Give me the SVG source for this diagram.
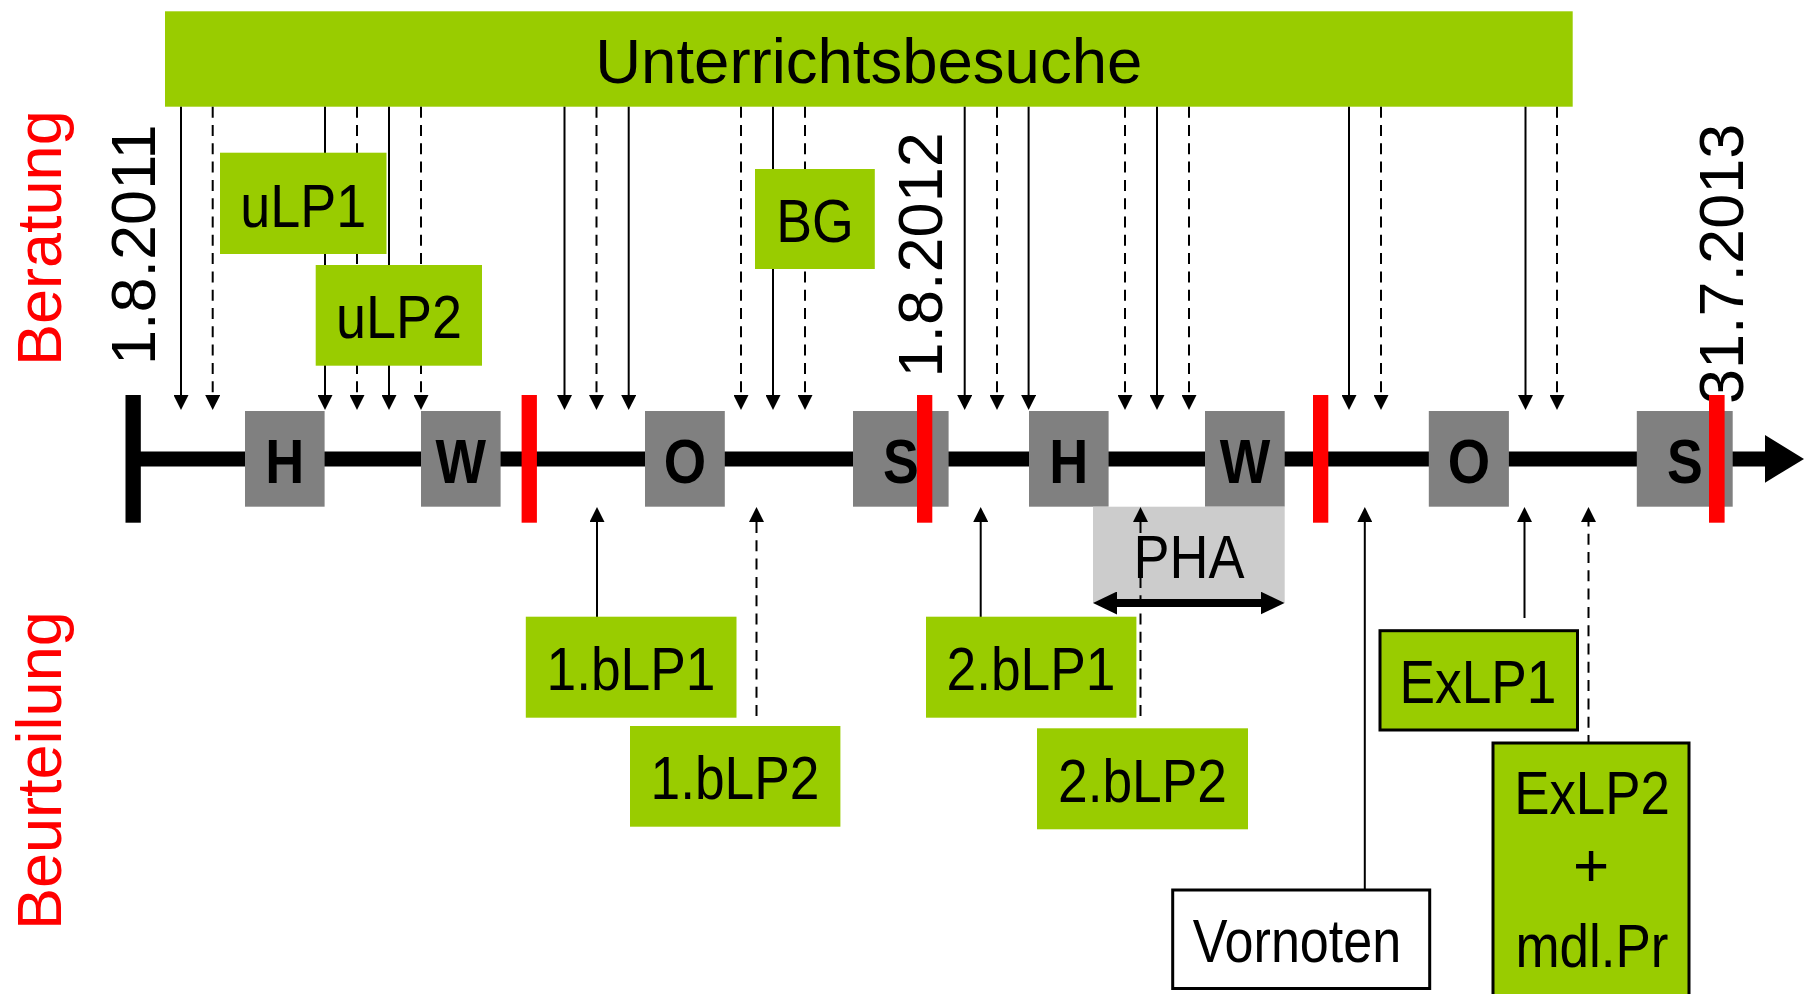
<svg xmlns="http://www.w3.org/2000/svg" width="1804" height="994" viewBox="0 0 1804 994">
<style>
text{font-family:'Liberation Sans',Arial,sans-serif;fill:#000}
.lbl{font-size:62px;text-anchor:middle}
.big{font-size:63.5px;text-anchor:middle}
.rot{font-size:63px}
.red{fill:#FF0000}
.tl{font-size:63px;font-weight:bold;text-anchor:middle}
.green{fill:#99CC00}
.gbox{fill:#99CC00;stroke:#000;stroke-width:3}
.grey{fill:#808080}
.rbar{fill:#FF0000}
.c{stroke:#000;stroke-width:2;fill:none}
.d{stroke-dasharray:11 7.3}
</style>
<defs>
<marker id="ah" markerUnits="userSpaceOnUse" markerWidth="15" markerHeight="15" viewBox="0 0 15 15" refX="10" refY="7.5" orient="auto">
<path d="M0,0 L15,7.5 L0,15 Z" fill="#000"/>
</marker>
<marker id="dh" markerUnits="userSpaceOnUse" markerWidth="24" markerHeight="23" viewBox="0 0 24 23" refX="6" refY="11.5" orient="auto-start-reverse">
<path d="M0,0 L24,11.5 L0,23 Z" fill="#000"/>
</marker>
</defs>

<g id="side-labels">
<text class="rot red" transform="translate(61,366) rotate(-90)">Beratung</text>
<text class="rot red" transform="translate(61,930) rotate(-90)">Beurteilung</text>
<text class="rot" transform="translate(155,365) rotate(-90)">1.8.2011</text>
<text class="rot" transform="translate(942,377.5) rotate(-90)">1.8.2012</text>
<text class="rot" transform="translate(1743,404) rotate(-90)">31.7.2013</text>
</g>

<g id="header">
<rect class="green" x="165" y="11.3" width="1407.7" height="95.4"/>
<text class="big" x="868.8" y="82.7">Unterrichtsbesuche</text>
</g>

<g id="timeline">
<line x1="133" y1="459" x2="1768" y2="459" stroke="#000" stroke-width="15"/>
<rect x="125.5" y="395" width="15.3" height="127.7" fill="#000"/>
<path d="M1765,435 L1804,459 L1765,482.7 Z" fill="#000"/>
</g>

<g id="box-H1"><rect class="grey" x="245" y="411" width="79.6" height="95.7"/><text class="tl" x="284.8" y="483.3" textLength="39" lengthAdjust="spacingAndGlyphs">H</text></g>
<g id="box-W1"><rect class="grey" x="421" y="411" width="79.6" height="95.7"/><text class="tl" x="460.8" y="483.3" textLength="50.5" lengthAdjust="spacingAndGlyphs">W</text></g>
<g id="box-O1"><rect class="grey" x="645" y="411" width="79.8" height="95.7"/><text class="tl" x="684.9" y="483.3" textLength="42.4" lengthAdjust="spacingAndGlyphs">O</text></g>
<g id="box-S1"><rect class="grey" x="853" y="411" width="95.6" height="95.7"/><text class="tl" x="901" y="483.3" textLength="35.8" lengthAdjust="spacingAndGlyphs">S</text></g>
<g id="box-H2"><rect class="grey" x="1029" y="411" width="79.6" height="95.7"/><text class="tl" x="1068.8" y="483.3" textLength="39" lengthAdjust="spacingAndGlyphs">H</text></g>
<g id="box-W2"><rect class="grey" x="1205" y="411" width="79.7" height="95.7"/><text class="tl" x="1244.9" y="483.3" textLength="50.5" lengthAdjust="spacingAndGlyphs">W</text></g>
<g id="box-O2"><rect class="grey" x="1428.8" y="411" width="80.1" height="95.7"/><text class="tl" x="1468.9" y="483.3" textLength="42.4" lengthAdjust="spacingAndGlyphs">O</text></g>
<g id="box-S2"><rect class="grey" x="1636.8" y="411" width="95.9" height="95.7"/><text class="tl" x="1684.8" y="483.3" textLength="35.8" lengthAdjust="spacingAndGlyphs">S</text></g>

<g id="year-marks">
<rect class="rbar" x="521.6" y="395" width="15.3" height="127.7"/>
<rect class="rbar" x="917" y="395" width="15.3" height="127.7"/>
<rect class="rbar" x="1313" y="395" width="15.3" height="127.7"/>
<rect class="rbar" x="1709" y="395" width="15.6" height="127.7"/>
</g>

<g id="PHA">
<rect x="1093" y="506.7" width="191.7" height="96.3" fill="#CCCCCC"/>
<text class="lbl" x="1189" y="578.3" textLength="111" lengthAdjust="spacingAndGlyphs">PHA</text>
<line x1="1111" y1="603" x2="1266.5" y2="603" stroke="#000" stroke-width="8" marker-start="url(#dh)" marker-end="url(#dh)"/>
</g>

<g id="connectors">
<line class="c" x1="181" y1="106.7" x2="181" y2="405" marker-end="url(#ah)"/>
<line class="c d" x1="212.7" y1="106.7" x2="212.7" y2="405" marker-end="url(#ah)"/>
<line class="c" x1="325" y1="106.7" x2="325" y2="405" marker-end="url(#ah)"/>
<line class="c d" x1="357" y1="106.7" x2="357" y2="405" marker-end="url(#ah)"/>
<line class="c" x1="389" y1="106.7" x2="389" y2="405" marker-end="url(#ah)"/>
<line class="c d" x1="421" y1="106.7" x2="421" y2="405" marker-end="url(#ah)"/>
<line class="c" x1="564.5" y1="106.7" x2="564.5" y2="405" marker-end="url(#ah)"/>
<line class="c d" x1="596.5" y1="106.7" x2="596.5" y2="405" marker-end="url(#ah)"/>
<line class="c" x1="628.7" y1="106.7" x2="628.7" y2="405" marker-end="url(#ah)"/>
<line class="c d" x1="741" y1="106.7" x2="741" y2="405" marker-end="url(#ah)"/>
<line class="c" x1="773" y1="106.7" x2="773" y2="405" marker-end="url(#ah)"/>
<line class="c d" x1="805" y1="106.7" x2="805" y2="405" marker-end="url(#ah)"/>
<line class="c" x1="964.7" y1="106.7" x2="964.7" y2="405" marker-end="url(#ah)"/>
<line class="c d" x1="997" y1="106.7" x2="997" y2="405" marker-end="url(#ah)"/>
<line class="c" x1="1028.6" y1="106.7" x2="1028.6" y2="405" marker-end="url(#ah)"/>
<line class="c d" x1="1125" y1="106.7" x2="1125" y2="405" marker-end="url(#ah)"/>
<line class="c" x1="1157" y1="106.7" x2="1157" y2="405" marker-end="url(#ah)"/>
<line class="c d" x1="1189" y1="106.7" x2="1189" y2="405" marker-end="url(#ah)"/>
<line class="c" x1="1349" y1="106.7" x2="1349" y2="405" marker-end="url(#ah)"/>
<line class="c d" x1="1381" y1="106.7" x2="1381" y2="405" marker-end="url(#ah)"/>
<line class="c" x1="1525.5" y1="106.7" x2="1525.5" y2="405" marker-end="url(#ah)"/>
<line class="c d" x1="1557" y1="106.7" x2="1557" y2="405" marker-end="url(#ah)"/>
<line class="c" x1="597" y1="618" x2="597" y2="512" marker-end="url(#ah)"/>
<line class="c d" x1="756.5" y1="716" x2="756.5" y2="512" marker-end="url(#ah)"/>
<line class="c" x1="980.7" y1="617" x2="980.7" y2="512" marker-end="url(#ah)"/>
<line class="c d" x1="1140.5" y1="716" x2="1140.5" y2="512" marker-end="url(#ah)"/>
<line class="c" x1="1364.8" y1="890" x2="1364.8" y2="512" marker-end="url(#ah)"/>
<line class="c" x1="1524.5" y1="618" x2="1524.5" y2="512" marker-end="url(#ah)"/>
<line class="c d" x1="1588.5" y1="746" x2="1588.5" y2="512" marker-end="url(#ah)"/>
</g>

<g id="uLP1"><rect class="green" x="220" y="152.7" width="166.5" height="101.3"/><text class="lbl" x="303.3" y="226.7" textLength="126" lengthAdjust="spacingAndGlyphs">uLP1</text></g>
<g id="uLP2"><rect class="green" x="315.7" y="265" width="166.3" height="100.7"/><text class="lbl" x="398.9" y="338.3" textLength="126" lengthAdjust="spacingAndGlyphs">uLP2</text></g>
<g id="BG"><rect class="green" x="755" y="169" width="119.8" height="100"/><text class="lbl" x="815" y="241.7" textLength="77.6" lengthAdjust="spacingAndGlyphs">BG</text></g>
<g id="bLP1-1"><rect class="green" x="525.8" y="616.7" width="210.7" height="101"/><text class="lbl" x="631" y="690" textLength="169" lengthAdjust="spacingAndGlyphs">1.bLP1</text></g>
<g id="bLP2-1"><rect class="green" x="630" y="726" width="210.4" height="100.7"/><text class="lbl" x="735" y="799.3" textLength="169" lengthAdjust="spacingAndGlyphs">1.bLP2</text></g>
<g id="bLP1-2"><rect class="green" x="926" y="616.7" width="210.4" height="101"/><text class="lbl" x="1031" y="690" textLength="169" lengthAdjust="spacingAndGlyphs">2.bLP1</text></g>
<g id="bLP2-2"><rect class="green" x="1037" y="728.3" width="211" height="101"/><text class="lbl" x="1142.5" y="801.7" textLength="169" lengthAdjust="spacingAndGlyphs">2.bLP2</text></g>
<g id="Vornoten"><rect x="1172.7" y="890" width="257" height="98.5" fill="#FFFFFF" stroke="#000" stroke-width="3"/><text class="lbl" x="1297" y="961.7" textLength="208.6" lengthAdjust="spacingAndGlyphs">Vornoten</text></g>
<g id="ExLP1"><rect class="gbox" x="1380" y="630.7" width="197.5" height="99.3"/><text class="lbl" x="1478" y="702.7" textLength="157" lengthAdjust="spacingAndGlyphs">ExLP1</text></g>
<g id="ExLP2"><rect class="gbox" x="1493" y="743" width="196" height="270"/>
<text class="lbl" x="1592" y="814.3" textLength="155.7" lengthAdjust="spacingAndGlyphs">ExLP2</text>
<text class="lbl" x="1591" y="886">+</text>
<text class="lbl" x="1592" y="966.7" textLength="153" lengthAdjust="spacingAndGlyphs">mdl.Pr</text></g>
</svg>
